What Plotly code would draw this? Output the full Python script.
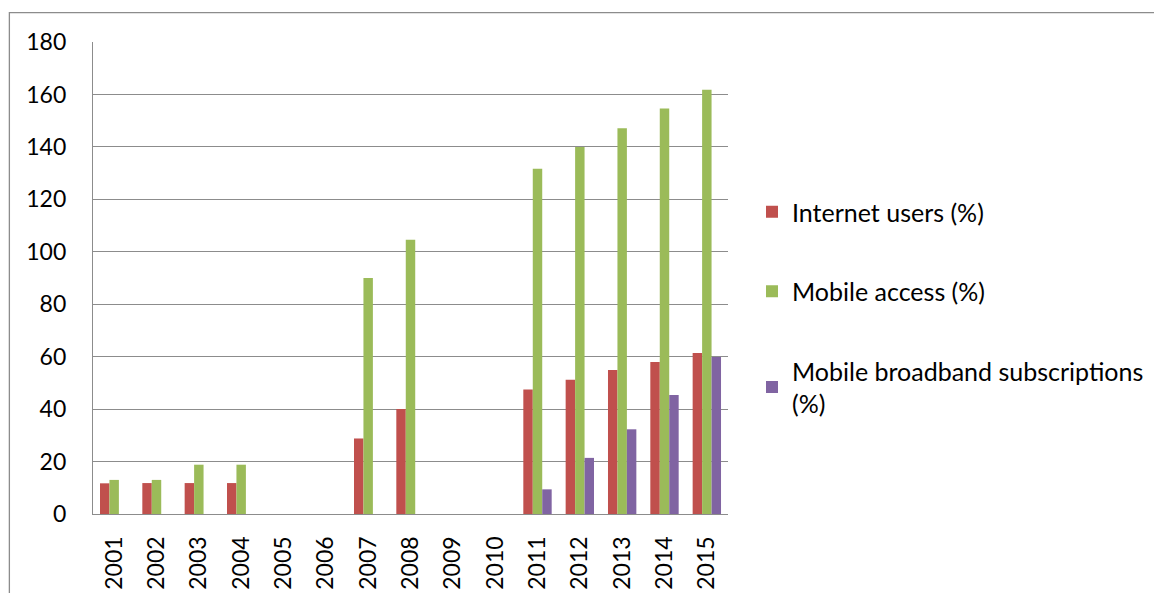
import plotly.graph_objects as go

years = ["2001", "2002", "2003", "2004", "2005", "2006", "2007", "2008",
         "2009", "2010", "2011", "2012", "2013", "2014", "2015"]
internet_users = [11.7, 11.8, 11.8, 11.8, None, None, 28.8, 40.0,
                  None, None, 47.5, 51.2, 54.9, 58.0, 61.4]
mobile_access = [13.0, 13.0, 18.8, 18.8, None, None, 90.0, 104.6,
                 None, None, 131.7, 140.0, 147.1, 154.6, 161.8]
mobile_broadband = [None, None, None, None, None, None, None, None,
                    None, None, 9.4, 21.4, 32.3, 45.4, 59.9]

series_names = ["Internet users (%)", "Mobile access (%)",
                "Mobile broadband subscriptions<br>(%)"]
series_colors = ["#C0504D", "#9BBB59", "#8064A2"]
series_values = [internet_users, mobile_access, mobile_broadband]

FONT = "Lato"
GRID = "#8c8c8c"

fig = go.Figure()
for i, (name, color, vals) in enumerate(zip(series_names, series_colors, series_values)):
    fig.add_trace(go.Bar(
        x=years, y=vals, name=name, legendgroup=f"g{i}",
        marker=dict(color=color, line=dict(width=0)),
    ))

W, H = 1154, 593
L, R, T, B = 92.7, 728.3, 42.3, 514.3
pw, ph = R - L, B - T

fig.update_layout(
    width=W, height=H,
    margin=dict(l=L, r=W - R, t=T, b=H - B, pad=0, autoexpand=False),
    paper_bgcolor="white", plot_bgcolor="white",
    barmode="group", bargap=0.33, bargroupgap=0,
    font=dict(family=FONT, size=23, color="black"),
    showlegend=True,
    legend=dict(
        xref="container", yref="container",
        x=752 / W, y=1 - 189 / H, xanchor="left", yanchor="top",
        traceorder="grouped", tracegroupgap=44,
        font=dict(family=FONT, size=25, color="black"),
        bgcolor="rgba(0,0,0,0)", itemclick=False,
    ),
    xaxis=dict(
        type="category", tickangle=-90, showgrid=False, automargin=False,
        showline=True, linecolor=GRID, linewidth=1.3,
        ticks="", ticklabelstandoff=12,
        tickfont=dict(family=FONT, size=23, color="black"),
    ),
    yaxis=dict(
        range=[0, 180], dtick=20, showgrid=True, gridcolor=GRID, gridwidth=1.3,
        showline=True, linecolor=GRID, linewidth=1.3, zeroline=False,
        ticks="", ticklabelstandoff=21, automargin=False,
        tickfont=dict(family=FONT, size=23, color="black"),
    ),
    shapes=[dict(
        type="rect", xref="paper", yref="paper",
        x0=(9 - L) / pw, x1=(W + 10 - L) / pw,
        y0=(B - (H + 10)) / ph, y1=(B - 13) / ph,
        line=dict(color="#8c8c8c", width=1.3), fillcolor="rgba(0,0,0,0)",
        layer="below",
    )],
)

fig.write_html("out.html")
